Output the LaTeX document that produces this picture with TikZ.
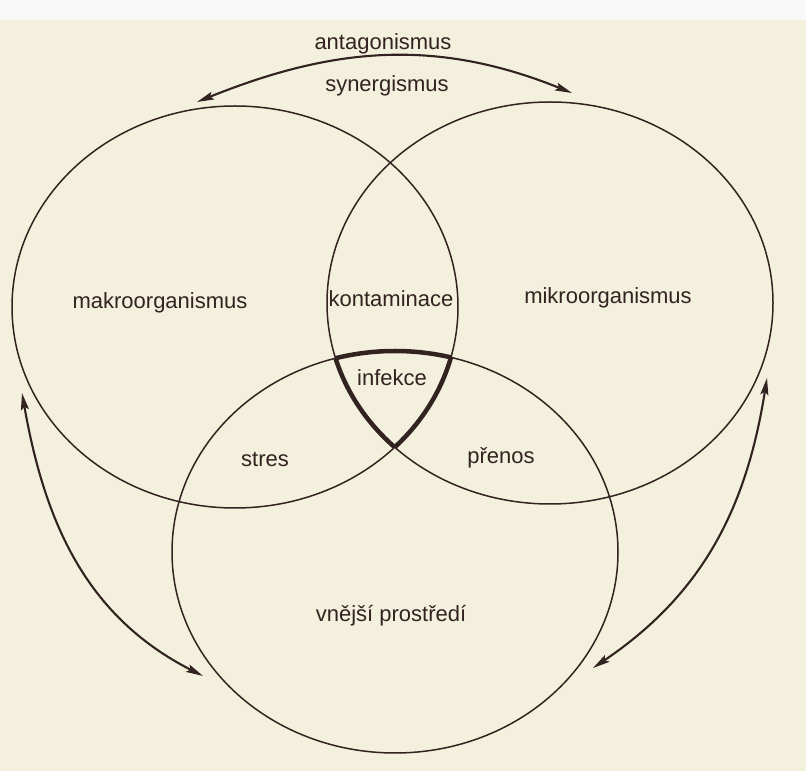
\documentclass[tikz,border=0pt]{standalone}
\usepackage{fontspec}
\setmainfont{Liberation Sans}
\usetikzlibrary{arrows.meta}

\definecolor{papir}{RGB}{243,241,221}
\definecolor{inkoust}{RGB}{50,34,32}

\tikzset{
    kruh/.style={draw=inkoust, line width=1.5pt},
    infekcni/.style={draw=inkoust, line width=4.5pt},
    sipka/.style={draw=inkoust, line width=2.1pt, <->},
    popis/.style={font=\fontsize{22}{25}\selectfont, text=inkoust, inner sep=0pt, anchor=base}
}

\begin{document}
\begin{tikzpicture}[x=1pt, y=1pt, >={Stealth[length=17pt, width=8pt, inset=3pt]}, line join=round]

        % pozadí (background)
        \fill[papir] (0,0) rectangle (806,771);
        \fill[gray!5] (0,751) rectangle (806,771);
        \useasboundingbox (0,0) rectangle (806,771);

        % poloosy a středy tří kruhů (radii and centres)
        \def\rx{223}
        \def\ry{201}
        \coordinate (makro) at (235,464);
        \coordinate (mikro) at (550,468);
        \coordinate (prostredi) at (395,219);

        % tři kruhy (three circles)
        \draw[kruh] (makro) ellipse [x radius=\rx, y radius=\ry];
        \draw[kruh] (mikro) ellipse [x radius=\rx, y radius=\ry];
        \draw[kruh] (prostredi) ellipse [x radius=\rx, y radius=\ry];

        % tlustý okraj průniku všech tří (infekce)
        \begin{scope}
            \clip (makro) ellipse [x radius=\rx, y radius=\ry];
            \clip (mikro) ellipse [x radius=\rx, y radius=\ry];
            \draw[infekcni] (prostredi) ellipse [x radius=\rx, y radius=\ry];
        \end{scope}
        \begin{scope}
            \clip (makro) ellipse [x radius=\rx, y radius=\ry];
            \clip (prostredi) ellipse [x radius=\rx, y radius=\ry];
            \draw[infekcni] (mikro) ellipse [x radius=\rx, y radius=\ry];
        \end{scope}
        \begin{scope}
            \clip (mikro) ellipse [x radius=\rx, y radius=\ry];
            \clip (prostredi) ellipse [x radius=\rx, y radius=\ry];
            \draw[infekcni] (makro) ellipse [x radius=\rx, y radius=\ry];
        \end{scope}

        % popisky (labels)
        \node[popis] (antag) at (383,721) {antagonismus};
        \node[popis] (synerg) at (387,679) {synergismus};
        \node[popis] (makroText) at (160,462) {makroorganismus};
        \node[popis] (kontam) at (391,464) {kontaminace};
        \node[popis] (mikroText) at (608,467) {mikroorganismus};
        \node[popis] (infekce) at (392,385) {infekce};
        \node[popis] (stres) at (265,304) {stres};
        \node[popis] (prenos) at (501,307) {přenos};
        \node[popis] (prostrediText) at (391,149) {vnější prostředí};

        % konce šipek (arrow ends)
        \coordinate (hore1) at (197,669);
        \coordinate (hore2) at (572,678);
        \coordinate (vlevo1) at (22,378);
        \coordinate (vlevo2) at (203,95);
        \coordinate (vpravo1) at (767,393);
        \coordinate (vpravo2) at (593,103);

        % obousměrné šipky (double arrows)
        \draw[sipka] (hore1) to[out=22, in=158] (hore2);
        \draw[sipka] (vlevo1) to[out=-80, in=153] (vlevo2);
        \draw[sipka] (vpravo1) to[out=-99, in=34] (vpravo2);

    \end{tikzpicture}
\end{document}
